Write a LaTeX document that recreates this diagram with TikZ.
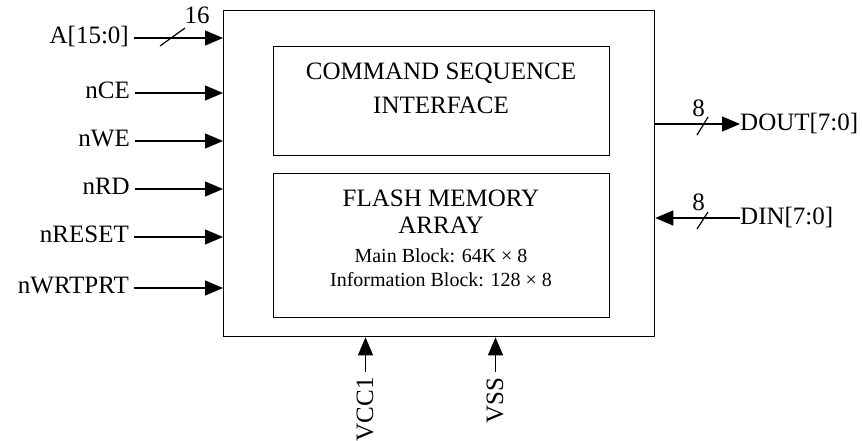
\documentclass[tikz,border=0pt]{standalone}
\usepackage{fontspec}
\setmainfont{Liberation Serif}
\usetikzlibrary{arrows.meta}
\begin{document}
\begin{tikzpicture}[x=1pt,y=-1pt,
  box/.style={draw,line width=1.3pt,inner sep=0pt,anchor=north west},
  sig/.style={font=\fontsize{25}{28}\selectfont,inner sep=0pt},
  big/.style={font=\fontsize{25}{28}\selectfont,inner sep=0pt,anchor=base},
  small/.style={font=\fontsize{20}{22}\selectfont,inner sep=0pt,anchor=base},
  wire/.style={line width=1.2pt,-{Triangle[length=18pt,width=15pt]}},
  busslash/.style={line width=1.2pt}]
\useasboundingbox (0,0) rectangle (862,440);
% chip and internal blocks
\node[box,minimum width=431pt,minimum height=326pt] (chip) at (223,10) {};
\node[box,minimum width=336pt,minimum height=109pt] (csi) at (273,46) {};
\node[box,minimum width=336pt,minimum height=144pt] (fma) at (273,173) {};
\node[big] (csi1) at (441,79) {COMMAND SEQUENCE};
\node[big] (csi2) at (441,113) {INTERFACE};
\node[big] (fma1) at (441,206) {FLASH MEMORY};
\node[big] (fma2) at (441,233) {ARRAY};
\node[small] (mb) at (441,262) {Main Block: 64K × 8};
\node[small] (ib) at (441,286) {Information Block: 128 × 8};
% left inputs
\node[sig,anchor=base east] (a) at (129,43.5) {A[15:0]};
\node[sig,anchor=base east] (nce) at (130,98.5) {nCE};
\node[sig,anchor=base east] (nwe) at (130,146.5) {nWE};
\node[sig,anchor=base east] (nrd) at (130,194.5) {nRD};
\node[sig,anchor=base east] (nreset) at (129,242.5) {nRESET};
\node[sig,anchor=base east] (nwrtprt) at (129,293.5) {nWRTPRT};
\coordinate (ya) at (0,38);
\coordinate (ynce) at (0,93);
\coordinate (ynwe) at (0,141);
\coordinate (ynrd) at (0,189);
\coordinate (ynreset) at (0,237);
\coordinate (ynwrtprt) at (0,288);
\foreach \s in {a,nce,nwe,nrd,nreset,nwrtprt}
  \draw[wire] (\s.east |- y\s) ++(5,0) -- (chip.west |- y\s);
\coordinate (as) at (172.5,37);
\draw[busslash] (as) ++(-12.5,9) -- ++(25,-18);
\node[big] (n16) at (197,23) {16};
% right outputs
\node[sig,anchor=base west] (dout) at (740,130) {DOUT[7:0]};
\node[sig,anchor=base west] (din) at (740,224) {DIN[7:0]};
\coordinate (ydout) at (0,124);
\coordinate (ydin) at (0,218);
\draw[wire] (chip.east |- ydout) -- (dout.west |- ydout);
\draw[wire] (din.west |- ydin) -- (chip.east |- ydin);
\coordinate (ds) at (702.5,126);
\draw[busslash] (ds) ++(-5.5,9) -- ++(11,-18);
\node[big] (n8a) at (698.5,116) {8};
\coordinate (dis) at (702.5,220.5);
\draw[busslash] (dis) ++(-5.5,8.5) -- ++(11,-17);
\node[big] (n8b) at (698.5,210) {8};
% bottom supplies
\node[sig,rotate=90,anchor=base east] (vcc) at (373,377) {VCC1};
\node[sig,rotate=90,anchor=base east] (vss) at (503,377) {VSS};
\coordinate (xvcc) at (365.5,0);
\coordinate (xvss) at (495.5,0);
\draw[wire] (xvcc |- vcc.east) ++(0,-5) -- (xvcc |- chip.south);
\draw[wire] (xvss |- vss.east) ++(0,-5) -- (xvss |- chip.south);
\end{tikzpicture}
\end{document}
